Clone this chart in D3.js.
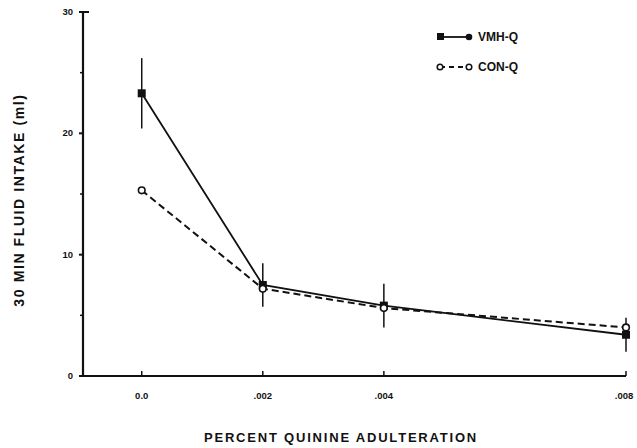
<!DOCTYPE html>
<html>
<head>
<meta charset="utf-8">
<script src="https://cdn.jsdelivr.net/npm/d3@7"></script>
<style>
  body { margin: 0; background: #fff; }
  text { font-family: "Liberation Sans", Arial, sans-serif; font-weight: bold; fill: #111; }
</style>
</head>
<body>
<svg id="chart" width="637" height="448"></svg>
<script>
// Data
const doses = [0, 0.002, 0.004, 0.008];
const doseLabels = ["0.0", ".002", ".004", ".008"];
const vmhMean = [23.3, 7.5, 5.8, 3.4];
const vmhErr = [2.9, 1.8, 1.8, 1.4];
const conMean = [15.3, 7.2, 5.6, 4.0];
const yTicks = [0, 10, 20, 30];
const yMinor = [5, 15, 25];

const svg = d3.select("#chart");

// Scales
const x = d3.scaleLinear().domain([-0.00097, 0.008]).range([83, 626]);
const y = d3.scaleLinear().domain([0, 30]).range([376, 12]);

// Y axis
const yAxis = svg.append("g").attr("transform", `translate(${x.range()[0]},0)`);
yAxis.append("line")
  .attr("y1", y(0)).attr("y2", y(30))
  .attr("stroke", "#111").attr("stroke-width", 2.2);
yAxis.append("line")
  .attr("x1", 0).attr("x2", 6).attr("y1", y(30)).attr("y2", y(30))
  .attr("stroke", "#111").attr("stroke-width", 2);
yAxis.selectAll(".major").data(yTicks).enter().append("line")
  .attr("x1", -4).attr("x2", 0)
  .attr("y1", d => y(d)).attr("y2", d => y(d))
  .attr("stroke", "#111").attr("stroke-width", 2);
yAxis.selectAll(".minor").data(yMinor).enter().append("line")
  .attr("x1", -3).attr("x2", 0)
  .attr("y1", d => y(d)).attr("y2", d => y(d))
  .attr("stroke", "#111").attr("stroke-width", 1.5);
yAxis.selectAll(".ylab").data(yTicks).enter().append("text")
  .attr("x", -10).attr("y", d => y(d) + 3)
  .attr("text-anchor", "end")
  .style("font-size", "9.5px")
  .text(d => d);

// X axis
const xAxis = svg.append("g");
xAxis.append("line")
  .attr("x1", x.range()[0]).attr("x2", x(0.008))
  .attr("y1", y(0)).attr("y2", y(0))
  .attr("stroke", "#111").attr("stroke-width", 2.2);
xAxis.selectAll(".xt").data(doses).enter().append("line")
  .attr("x1", d => x(d)).attr("x2", d => x(d))
  .attr("y1", y(0)).attr("y2", y(0) - 5)
  .attr("stroke", "#111").attr("stroke-width", 1.5);
xAxis.selectAll(".xlab").data(doses).enter().append("text")
  .attr("x", (d, i) => x(d) + (i === 3 ? -2 : 0))
  .attr("y", 399)
  .attr("text-anchor", "middle")
  .style("font-size", "9.5px")
  .text((d, i) => doseLabels[i]);

// Axis titles
svg.append("text")
  .attr("transform", `translate(24,${y(14.5)}) rotate(-90)`)
  .attr("text-anchor", "middle")
  .style("font-size", "14px")
  .style("letter-spacing", "1.6px")
  .text("30 MIN FLUID INTAKE (ml)");
svg.append("text")
  .attr("x", 341).attr("y", 442)
  .attr("text-anchor", "middle")
  .style("font-size", "13px")
  .style("letter-spacing", "1.8px")
  .text("PERCENT QUININE ADULTERATION");

// Error bars (VMH-Q)
svg.selectAll(".err").data(doses).enter().append("line")
  .attr("x1", d => x(d)).attr("x2", d => x(d))
  .attr("y1", (d, i) => y(vmhMean[i] + vmhErr[i]))
  .attr("y2", (d, i) => y(vmhMean[i] - vmhErr[i]))
  .attr("stroke", "#111").attr("stroke-width", 1.5);

// Lines
const line = d3.line().x(d => x(d[0])).y(d => y(d[1]));
svg.append("path")
  .datum(doses.map((d, i) => [d, conMean[i]]))
  .attr("d", line)
  .attr("fill", "none").attr("stroke", "#111")
  .attr("stroke-width", 2).attr("stroke-dasharray", "7,4");
svg.append("path")
  .datum(doses.map((d, i) => [d, vmhMean[i]]))
  .attr("d", line)
  .attr("fill", "none").attr("stroke", "#111").attr("stroke-width", 1.8);

// Markers
svg.selectAll(".vmh").data(doses).enter().append("rect")
  .attr("x", (d, i) => x(d) - 4).attr("y", (d, i) => y(vmhMean[i]) - 4)
  .attr("width", 8).attr("height", 8)
  .attr("fill", "#111");
svg.selectAll(".con").data(doses).enter().append("circle")
  .attr("cx", d => x(d)).attr("cy", (d, i) => y(conMean[i]))
  .attr("r", 3.3)
  .attr("fill", "#fff").attr("stroke", "#111").attr("stroke-width", 1.6);

// Legend
const lg = svg.append("g").attr("transform", "translate(440,0)");
lg.append("line").attr("x1", 0).attr("x2", 29).attr("y1", 37).attr("y2", 37)
  .attr("stroke", "#111").attr("stroke-width", 1.8);
lg.append("rect").attr("x", -3).attr("y", 33).attr("width", 7).attr("height", 7).attr("fill", "#111");
lg.append("circle").attr("cx", 29).attr("cy", 37).attr("r", 3.3).attr("fill", "#111");
lg.append("text").attr("x", 38).attr("y", 41).style("font-size", "12px").text("VMH-Q");
lg.append("line").attr("x1", 0).attr("x2", 29).attr("y1", 67).attr("y2", 67)
  .attr("stroke", "#111").attr("stroke-width", 1.8).attr("stroke-dasharray", "5,4");
lg.append("circle").attr("cx", 0).attr("cy", 67).attr("r", 2.8)
  .attr("fill", "#fff").attr("stroke", "#111").attr("stroke-width", 1.5);
lg.append("circle").attr("cx", 29).attr("cy", 67).attr("r", 2.8)
  .attr("fill", "#fff").attr("stroke", "#111").attr("stroke-width", 1.5);
lg.append("text").attr("x", 38).attr("y", 71).style("font-size", "12px").text("CON-Q");
</script>
</body>
</html>
